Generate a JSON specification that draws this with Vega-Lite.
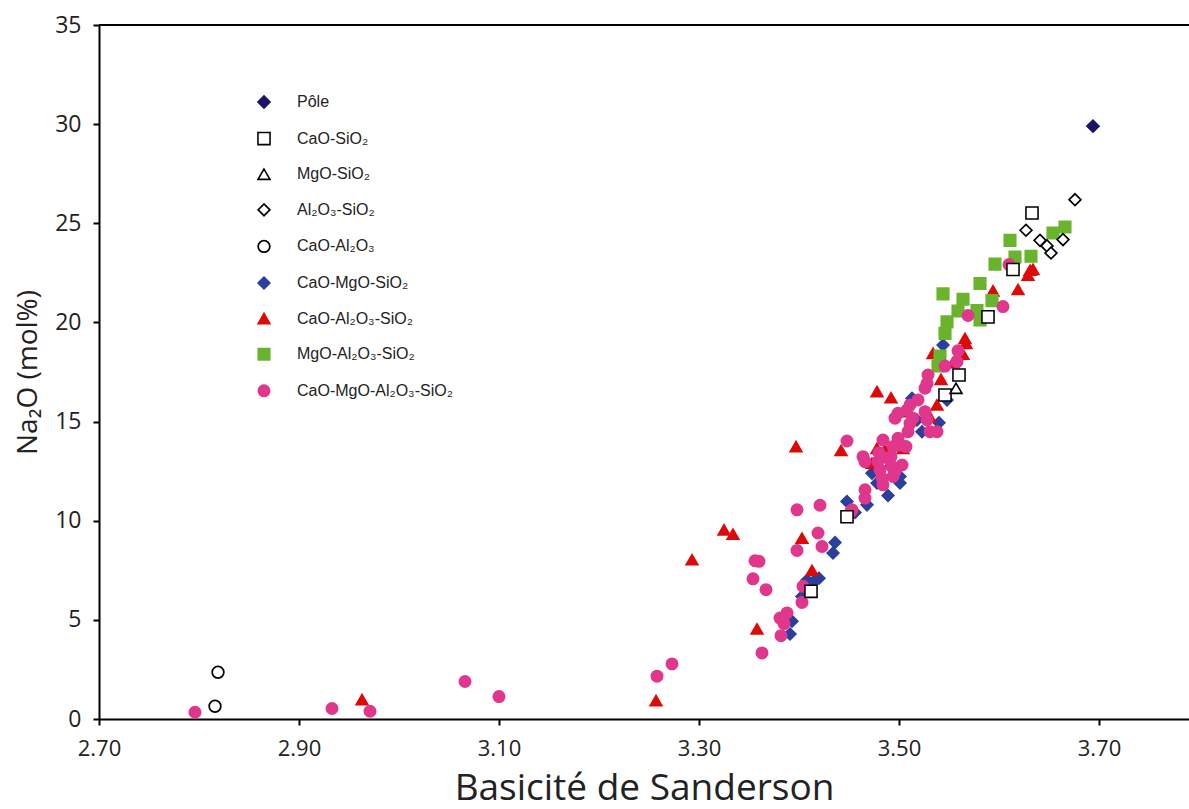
{
  "$schema": "https://vega.github.io/schema/vega-lite/v6.json",
  "autosize": "none",
  "padding": {"left": 99, "top": 25, "right": 0, "bottom": 90},
  "width": 1090,
  "height": 694,
  "background": "white",
  "config": {
    "view": {"stroke": null},
    "legend": {"labelFont": "Liberation Sans", "labelFontSize": 16, "labelColor": "#222", "labelOffset": 25,
      "symbolStrokeWidth": 2, "rowPadding": 16.6, "padding": 0}
  },
  "data": {"values": [
    {"s":"CaO-MgO-SiO₂","x":3.544,"y":18.86},{"s":"CaO-MgO-SiO₂","x":3.548,"y":16.09},{"s":"CaO-MgO-SiO₂","x":3.513,"y":16.17},{"s":"CaO-MgO-SiO₂","x":3.518,"y":15.08},{"s":"CaO-MgO-SiO₂","x":3.540,"y":14.94},{"s":"CaO-MgO-SiO₂","x":3.523,"y":14.49},{"s":"CaO-MgO-SiO₂","x":3.473,"y":12.4},{"s":"CaO-MgO-SiO₂","x":3.501,"y":12.23},{"s":"CaO-MgO-SiO₂","x":3.501,"y":11.9},{"s":"CaO-MgO-SiO₂","x":3.478,"y":11.9},{"s":"CaO-MgO-SiO₂","x":3.489,"y":11.27},{"s":"CaO-MgO-SiO₂","x":3.448,"y":10.97},{"s":"CaO-MgO-SiO₂","x":3.456,"y":10.41},{"s":"CaO-MgO-SiO₂","x":3.468,"y":10.8},{"s":"CaO-MgO-SiO₂","x":3.436,"y":8.9},{"s":"CaO-MgO-SiO₂","x":3.434,"y":8.37},{"s":"CaO-MgO-SiO₂","x":3.408,"y":7.0},{"s":"CaO-MgO-SiO₂","x":3.414,"y":6.9},{"s":"CaO-MgO-SiO₂","x":3.42,"y":7.1},{"s":"CaO-MgO-SiO₂","x":3.403,"y":6.18},{"s":"CaO-MgO-SiO₂","x":3.393,"y":4.93},{"s":"CaO-MgO-SiO₂","x":3.391,"y":4.29},
    {"s":"CaO-Al₂O₃-SiO₂","x":2.963,"y":0.98},{"s":"CaO-Al₂O₃-SiO₂","x":3.257,"y":0.93},{"s":"CaO-Al₂O₃-SiO₂","x":3.293,"y":8.03},{"s":"CaO-Al₂O₃-SiO₂","x":3.325,"y":9.54},{"s":"CaO-Al₂O₃-SiO₂","x":3.334,"y":9.32},{"s":"CaO-Al₂O₃-SiO₂","x":3.358,"y":4.54},{"s":"CaO-Al₂O₃-SiO₂","x":3.397,"y":13.74},{"s":"CaO-Al₂O₃-SiO₂","x":3.403,"y":9.12},{"s":"CaO-Al₂O₃-SiO₂","x":3.413,"y":7.49},{"s":"CaO-Al₂O₃-SiO₂","x":3.442,"y":13.54},{"s":"CaO-Al₂O₃-SiO₂","x":3.478,"y":16.51},{"s":"CaO-Al₂O₃-SiO₂","x":3.492,"y":16.2},{"s":"CaO-Al₂O₃-SiO₂","x":3.538,"y":15.84},{"s":"CaO-Al₂O₃-SiO₂","x":3.542,"y":17.13},{"s":"CaO-Al₂O₃-SiO₂","x":3.534,"y":18.44},{"s":"CaO-Al₂O₃-SiO₂","x":3.567,"y":18.94},{"s":"CaO-Al₂O₃-SiO₂","x":3.564,"y":18.4},{"s":"CaO-Al₂O₃-SiO₂","x":3.554,"y":17.97},{"s":"CaO-Al₂O₃-SiO₂","x":3.509,"y":15.5},{"s":"CaO-Al₂O₃-SiO₂","x":3.531,"y":15.22},{"s":"CaO-Al₂O₃-SiO₂","x":3.504,"y":13.65},{"s":"CaO-Al₂O₃-SiO₂","x":3.478,"y":13.65},{"s":"CaO-Al₂O₃-SiO₂","x":3.486,"y":13.57},{"s":"CaO-Al₂O₃-SiO₂","x":3.473,"y":12.9},{"s":"CaO-Al₂O₃-SiO₂","x":3.491,"y":12.9},{"s":"CaO-Al₂O₃-SiO₂","x":3.566,"y":19.19},{"s":"CaO-Al₂O₃-SiO₂","x":3.594,"y":21.59},{"s":"CaO-Al₂O₃-SiO₂","x":3.619,"y":21.66},{"s":"CaO-Al₂O₃-SiO₂","x":3.631,"y":22.63},{"s":"CaO-Al₂O₃-SiO₂","x":3.634,"y":22.68},{"s":"CaO-Al₂O₃-SiO₂","x":3.629,"y":22.38},
    {"s":"MgO-Al₂O₃-SiO₂","x":3.666,"y":24.81},{"s":"MgO-Al₂O₃-SiO₂","x":3.654,"y":24.51},{"s":"MgO-Al₂O₃-SiO₂","x":3.611,"y":24.14},{"s":"MgO-Al₂O₃-SiO₂","x":3.616,"y":23.3},{"s":"MgO-Al₂O₃-SiO₂","x":3.632,"y":23.34},{"s":"MgO-Al₂O₃-SiO₂","x":3.596,"y":22.94},{"s":"MgO-Al₂O₃-SiO₂","x":3.581,"y":21.96},{"s":"MgO-Al₂O₃-SiO₂","x":3.593,"y":21.1},{"s":"MgO-Al₂O₃-SiO₂","x":3.544,"y":21.44},{"s":"MgO-Al₂O₃-SiO₂","x":3.564,"y":21.17},{"s":"MgO-Al₂O₃-SiO₂","x":3.559,"y":20.58},{"s":"MgO-Al₂O₃-SiO₂","x":3.578,"y":20.6},{"s":"MgO-Al₂O₃-SiO₂","x":3.581,"y":20.12},{"s":"MgO-Al₂O₃-SiO₂","x":3.548,"y":20.03},{"s":"MgO-Al₂O₃-SiO₂","x":3.546,"y":19.45},{"s":"MgO-Al₂O₃-SiO₂","x":3.541,"y":18.3},{"s":"MgO-Al₂O₃-SiO₂","x":3.539,"y":17.8},
    {"s":"CaO-MgO-Al₂O₃-SiO₂","x":2.796,"y":0.34},{"s":"CaO-MgO-Al₂O₃-SiO₂","x":2.933,"y":0.53},{"s":"CaO-MgO-Al₂O₃-SiO₂","x":2.971,"y":0.39},{"s":"CaO-MgO-Al₂O₃-SiO₂","x":3.066,"y":1.89},{"s":"CaO-MgO-Al₂O₃-SiO₂","x":3.1,"y":1.13},{"s":"CaO-MgO-Al₂O₃-SiO₂","x":3.258,"y":2.16},{"s":"CaO-MgO-Al₂O₃-SiO₂","x":3.273,"y":2.78},
    {"s":"CaO-MgO-Al₂O₃-SiO₂","x":3.448,"y":14.02},{"s":"CaO-MgO-Al₂O₃-SiO₂","x":3.398,"y":10.55},{"s":"CaO-MgO-Al₂O₃-SiO₂","x":3.421,"y":10.78},{"s":"CaO-MgO-Al₂O₃-SiO₂","x":3.452,"y":10.48},{"s":"CaO-MgO-Al₂O₃-SiO₂","x":3.419,"y":9.38},{"s":"CaO-MgO-Al₂O₃-SiO₂","x":3.398,"y":8.5},{"s":"CaO-MgO-Al₂O₃-SiO₂","x":3.423,"y":8.7},{"s":"CaO-MgO-Al₂O₃-SiO₂","x":3.356,"y":7.98},{"s":"CaO-MgO-Al₂O₃-SiO₂","x":3.36,"y":7.95},{"s":"CaO-MgO-Al₂O₃-SiO₂","x":3.354,"y":7.07},{"s":"CaO-MgO-Al₂O₃-SiO₂","x":3.367,"y":6.52},{"s":"CaO-MgO-Al₂O₃-SiO₂","x":3.404,"y":6.69},{"s":"CaO-MgO-Al₂O₃-SiO₂","x":3.403,"y":5.88},{"s":"CaO-MgO-Al₂O₃-SiO₂","x":3.381,"y":5.09},{"s":"CaO-MgO-Al₂O₃-SiO₂","x":3.388,"y":5.35},{"s":"CaO-MgO-Al₂O₃-SiO₂","x":3.385,"y":4.81},{"s":"CaO-MgO-Al₂O₃-SiO₂","x":3.382,"y":4.2},{"s":"CaO-MgO-Al₂O₃-SiO₂","x":3.363,"y":3.33},
    {"s":"CaO-MgO-Al₂O₃-SiO₂","x":3.559,"y":18.57},{"s":"CaO-MgO-Al₂O₃-SiO₂","x":3.558,"y":18.02},{"s":"CaO-MgO-Al₂O₃-SiO₂","x":3.546,"y":17.8},{"s":"CaO-MgO-Al₂O₃-SiO₂","x":3.529,"y":17.35},{"s":"CaO-MgO-Al₂O₃-SiO₂","x":3.528,"y":16.93},{"s":"CaO-MgO-Al₂O₃-SiO₂","x":3.526,"y":16.68},{"s":"CaO-MgO-Al₂O₃-SiO₂","x":3.519,"y":16.09},{"s":"CaO-MgO-Al₂O₃-SiO₂","x":3.511,"y":15.84},{"s":"CaO-MgO-Al₂O₃-SiO₂","x":3.508,"y":15.58},{"s":"CaO-MgO-Al₂O₃-SiO₂","x":3.499,"y":15.42},{"s":"CaO-MgO-Al₂O₃-SiO₂","x":3.496,"y":15.17},{"s":"CaO-MgO-Al₂O₃-SiO₂","x":3.526,"y":15.5},{"s":"CaO-MgO-Al₂O₃-SiO₂","x":3.528,"y":15.08},{"s":"CaO-MgO-Al₂O₃-SiO₂","x":3.514,"y":15.17},{"s":"CaO-MgO-Al₂O₃-SiO₂","x":3.511,"y":14.91},{"s":"CaO-MgO-Al₂O₃-SiO₂","x":3.509,"y":14.49},{"s":"CaO-MgO-Al₂O₃-SiO₂","x":3.531,"y":14.49},{"s":"CaO-MgO-Al₂O₃-SiO₂","x":3.538,"y":14.49},{"s":"CaO-MgO-Al₂O₃-SiO₂","x":3.484,"y":14.07},{"s":"CaO-MgO-Al₂O₃-SiO₂","x":3.499,"y":14.16},{"s":"CaO-MgO-Al₂O₃-SiO₂","x":3.501,"y":13.82},{"s":"CaO-MgO-Al₂O₃-SiO₂","x":3.494,"y":13.74},{"s":"CaO-MgO-Al₂O₃-SiO₂","x":3.492,"y":13.23},{"s":"CaO-MgO-Al₂O₃-SiO₂","x":3.507,"y":13.74},{"s":"CaO-MgO-Al₂O₃-SiO₂","x":3.464,"y":13.23},{"s":"CaO-MgO-Al₂O₃-SiO₂","x":3.466,"y":12.98},{"s":"CaO-MgO-Al₂O₃-SiO₂","x":3.48,"y":13.43},{"s":"CaO-MgO-Al₂O₃-SiO₂","x":3.479,"y":12.98},{"s":"CaO-MgO-Al₂O₃-SiO₂","x":3.481,"y":12.56},{"s":"CaO-MgO-Al₂O₃-SiO₂","x":3.489,"y":13.15},{"s":"CaO-MgO-Al₂O₃-SiO₂","x":3.493,"y":12.73},{"s":"CaO-MgO-Al₂O₃-SiO₂","x":3.503,"y":12.81},{"s":"CaO-MgO-Al₂O₃-SiO₂","x":3.496,"y":12.48},{"s":"CaO-MgO-Al₂O₃-SiO₂","x":3.494,"y":12.23},{"s":"CaO-MgO-Al₂O₃-SiO₂","x":3.483,"y":12.15},{"s":"CaO-MgO-Al₂O₃-SiO₂","x":3.484,"y":11.81},{"s":"CaO-MgO-Al₂O₃-SiO₂","x":3.466,"y":11.56},{"s":"CaO-MgO-Al₂O₃-SiO₂","x":3.466,"y":11.14},{"s":"CaO-MgO-Al₂O₃-SiO₂","x":3.453,"y":10.55},
    {"s":"CaO-MgO-Al₂O₃-SiO₂","x":3.61,"y":22.92},{"s":"CaO-MgO-Al₂O₃-SiO₂","x":3.604,"y":20.8},{"s":"CaO-MgO-Al₂O₃-SiO₂","x":3.569,"y":20.35},
    {"s":"CaO-SiO₂","x":3.633,"y":25.52},{"s":"CaO-SiO₂","x":3.614,"y":22.67},{"s":"CaO-SiO₂","x":3.589,"y":20.28},{"s":"CaO-SiO₂","x":3.56,"y":17.35},{"s":"CaO-SiO₂","x":3.546,"y":16.34},{"s":"CaO-SiO₂","x":3.448,"y":10.2},{"s":"CaO-SiO₂","x":3.412,"y":6.44},
    {"s":"MgO-SiO₂","x":3.557,"y":16.68},
    {"s":"Al₂O₃-SiO₂","x":3.676,"y":26.19},{"s":"Al₂O₃-SiO₂","x":3.627,"y":24.65},{"s":"Al₂O₃-SiO₂","x":3.641,"y":24.14},{"s":"Al₂O₃-SiO₂","x":3.648,"y":23.86},{"s":"Al₂O₃-SiO₂","x":3.652,"y":23.5},{"s":"Al₂O₃-SiO₂","x":3.664,"y":24.18},
    {"s":"CaO-Al₂O₃","x":2.816,"y":0.64},{"s":"CaO-Al₂O₃","x":2.819,"y":2.36},
    {"s":"Pôle","x":3.694,"y":29.9}
  ]},
  "layer": [
    {
      "mark": {"type": "point", "filled": true, "opacity": 1},
      "encoding": {
        "x": {"field": "x", "type": "quantitative",
          "scale": {"domain": [2.7, 3.79], "nice": false, "zero": false},
          "axis": {"values": [2.7, 2.9, 3.1, 3.3, 3.5, 3.7], "format": ".2f", "title": "Basicité de Sanderson",
            "grid": false, "domainColor": "black", "domainWidth": 2, "tickColor": "black", "tickWidth": 2, "tickSize": 6,
            "labelFlush": false, "labelFont": "Open Sans", "labelFontSize": 22, "labelColor": "#222", "labelPadding": 13,
            "titleFont": "Open Sans", "titleFontSize": 37, "titleFontWeight": "normal", "titleColor": "#222", "titlePadding": 11}},
        "y": {"field": "y", "type": "quantitative",
          "scale": {"domain": [0, 35], "nice": false},
          "axis": {"values": [0, 5, 10, 15, 20, 25, 30, 35], "title": "Na₂O (mol%)",
            "grid": false, "domainColor": "black", "domainWidth": 2, "tickColor": "black", "tickWidth": 2, "tickSize": 6,
            "labelFlush": false, "labelFont": "Open Sans", "labelFontSize": 23, "labelColor": "#222", "labelPadding": 12,
            "titleFont": "Open Sans", "titleFontSize": 28, "titleFontWeight": "normal", "titleColor": "#222", "titlePadding": 12}},
        "shape": {"field": "s", "type": "nominal",
          "scale": {"domain": ["Pôle","CaO-SiO₂","MgO-SiO₂","Al₂O₃-SiO₂","CaO-Al₂O₃","CaO-MgO-SiO₂","CaO-Al₂O₃-SiO₂","MgO-Al₂O₃-SiO₂","CaO-MgO-Al₂O₃-SiO₂"],
            "range": ["diamond","square","triangle-up","diamond","circle","diamond","triangle-up","square","circle"]},
          "legend": {"title": null, "orient": "none", "legendX": 157, "legendY": 69}},
        "fill": {"field": "s", "type": "nominal",
          "scale": {"domain": ["Pôle","CaO-SiO₂","MgO-SiO₂","Al₂O₃-SiO₂","CaO-Al₂O₃","CaO-MgO-SiO₂","CaO-Al₂O₃-SiO₂","MgO-Al₂O₃-SiO₂","CaO-MgO-Al₂O₃-SiO₂"],
            "range": ["#1b1464","white","white","white","white","#2b3f9c","#dd0a0a","#6ab42d","#e0378c"]},
          "legend": {"title": null, "orient": "none", "legendX": 157, "legendY": 69}},
        "stroke": {"field": "s", "type": "nominal",
          "scale": {"domain": ["Pôle","CaO-SiO₂","MgO-SiO₂","Al₂O₃-SiO₂","CaO-Al₂O₃","CaO-MgO-SiO₂","CaO-Al₂O₃-SiO₂","MgO-Al₂O₃-SiO₂","CaO-MgO-Al₂O₃-SiO₂"],
            "range": ["#1b1464","black","black","black","black","#2b3f9c","#dd0a0a","#6ab42d","#e0378c"]},
          "legend": {"title": null, "orient": "none", "legendX": 157, "legendY": 69}},
        "size": {"field": "s", "type": "nominal",
          "scale": {"domain": ["Pôle","CaO-SiO₂","MgO-SiO₂","Al₂O₃-SiO₂","CaO-Al₂O₃","CaO-MgO-SiO₂","CaO-Al₂O₃-SiO₂","MgO-Al₂O₃-SiO₂","CaO-MgO-Al₂O₃-SiO₂"],
            "range": [150, 121, 121, 121, 106, 120, 196, 150, 95]},
          "legend": {"title": null, "orient": "none", "legendX": 157, "legendY": 69}},
        "strokeWidth": {"field": "s", "type": "nominal",
          "scale": {"domain": ["Pôle","CaO-SiO₂","MgO-SiO₂","Al₂O₃-SiO₂","CaO-Al₂O₃","CaO-MgO-SiO₂","CaO-Al₂O₃-SiO₂","MgO-Al₂O₃-SiO₂","CaO-MgO-Al₂O₃-SiO₂"],
            "range": [1.5, 2, 2, 2, 2, 1.5, 1, 1, 1]},
          "legend": {"title": null, "orient": "none", "legendX": 157, "legendY": 69}}
      }
    },
    {
      "mark": {"type": "rule", "color": "black", "strokeWidth": 2},
      "encoding": {"y": {"datum": 35}}
    }
  ]
}
